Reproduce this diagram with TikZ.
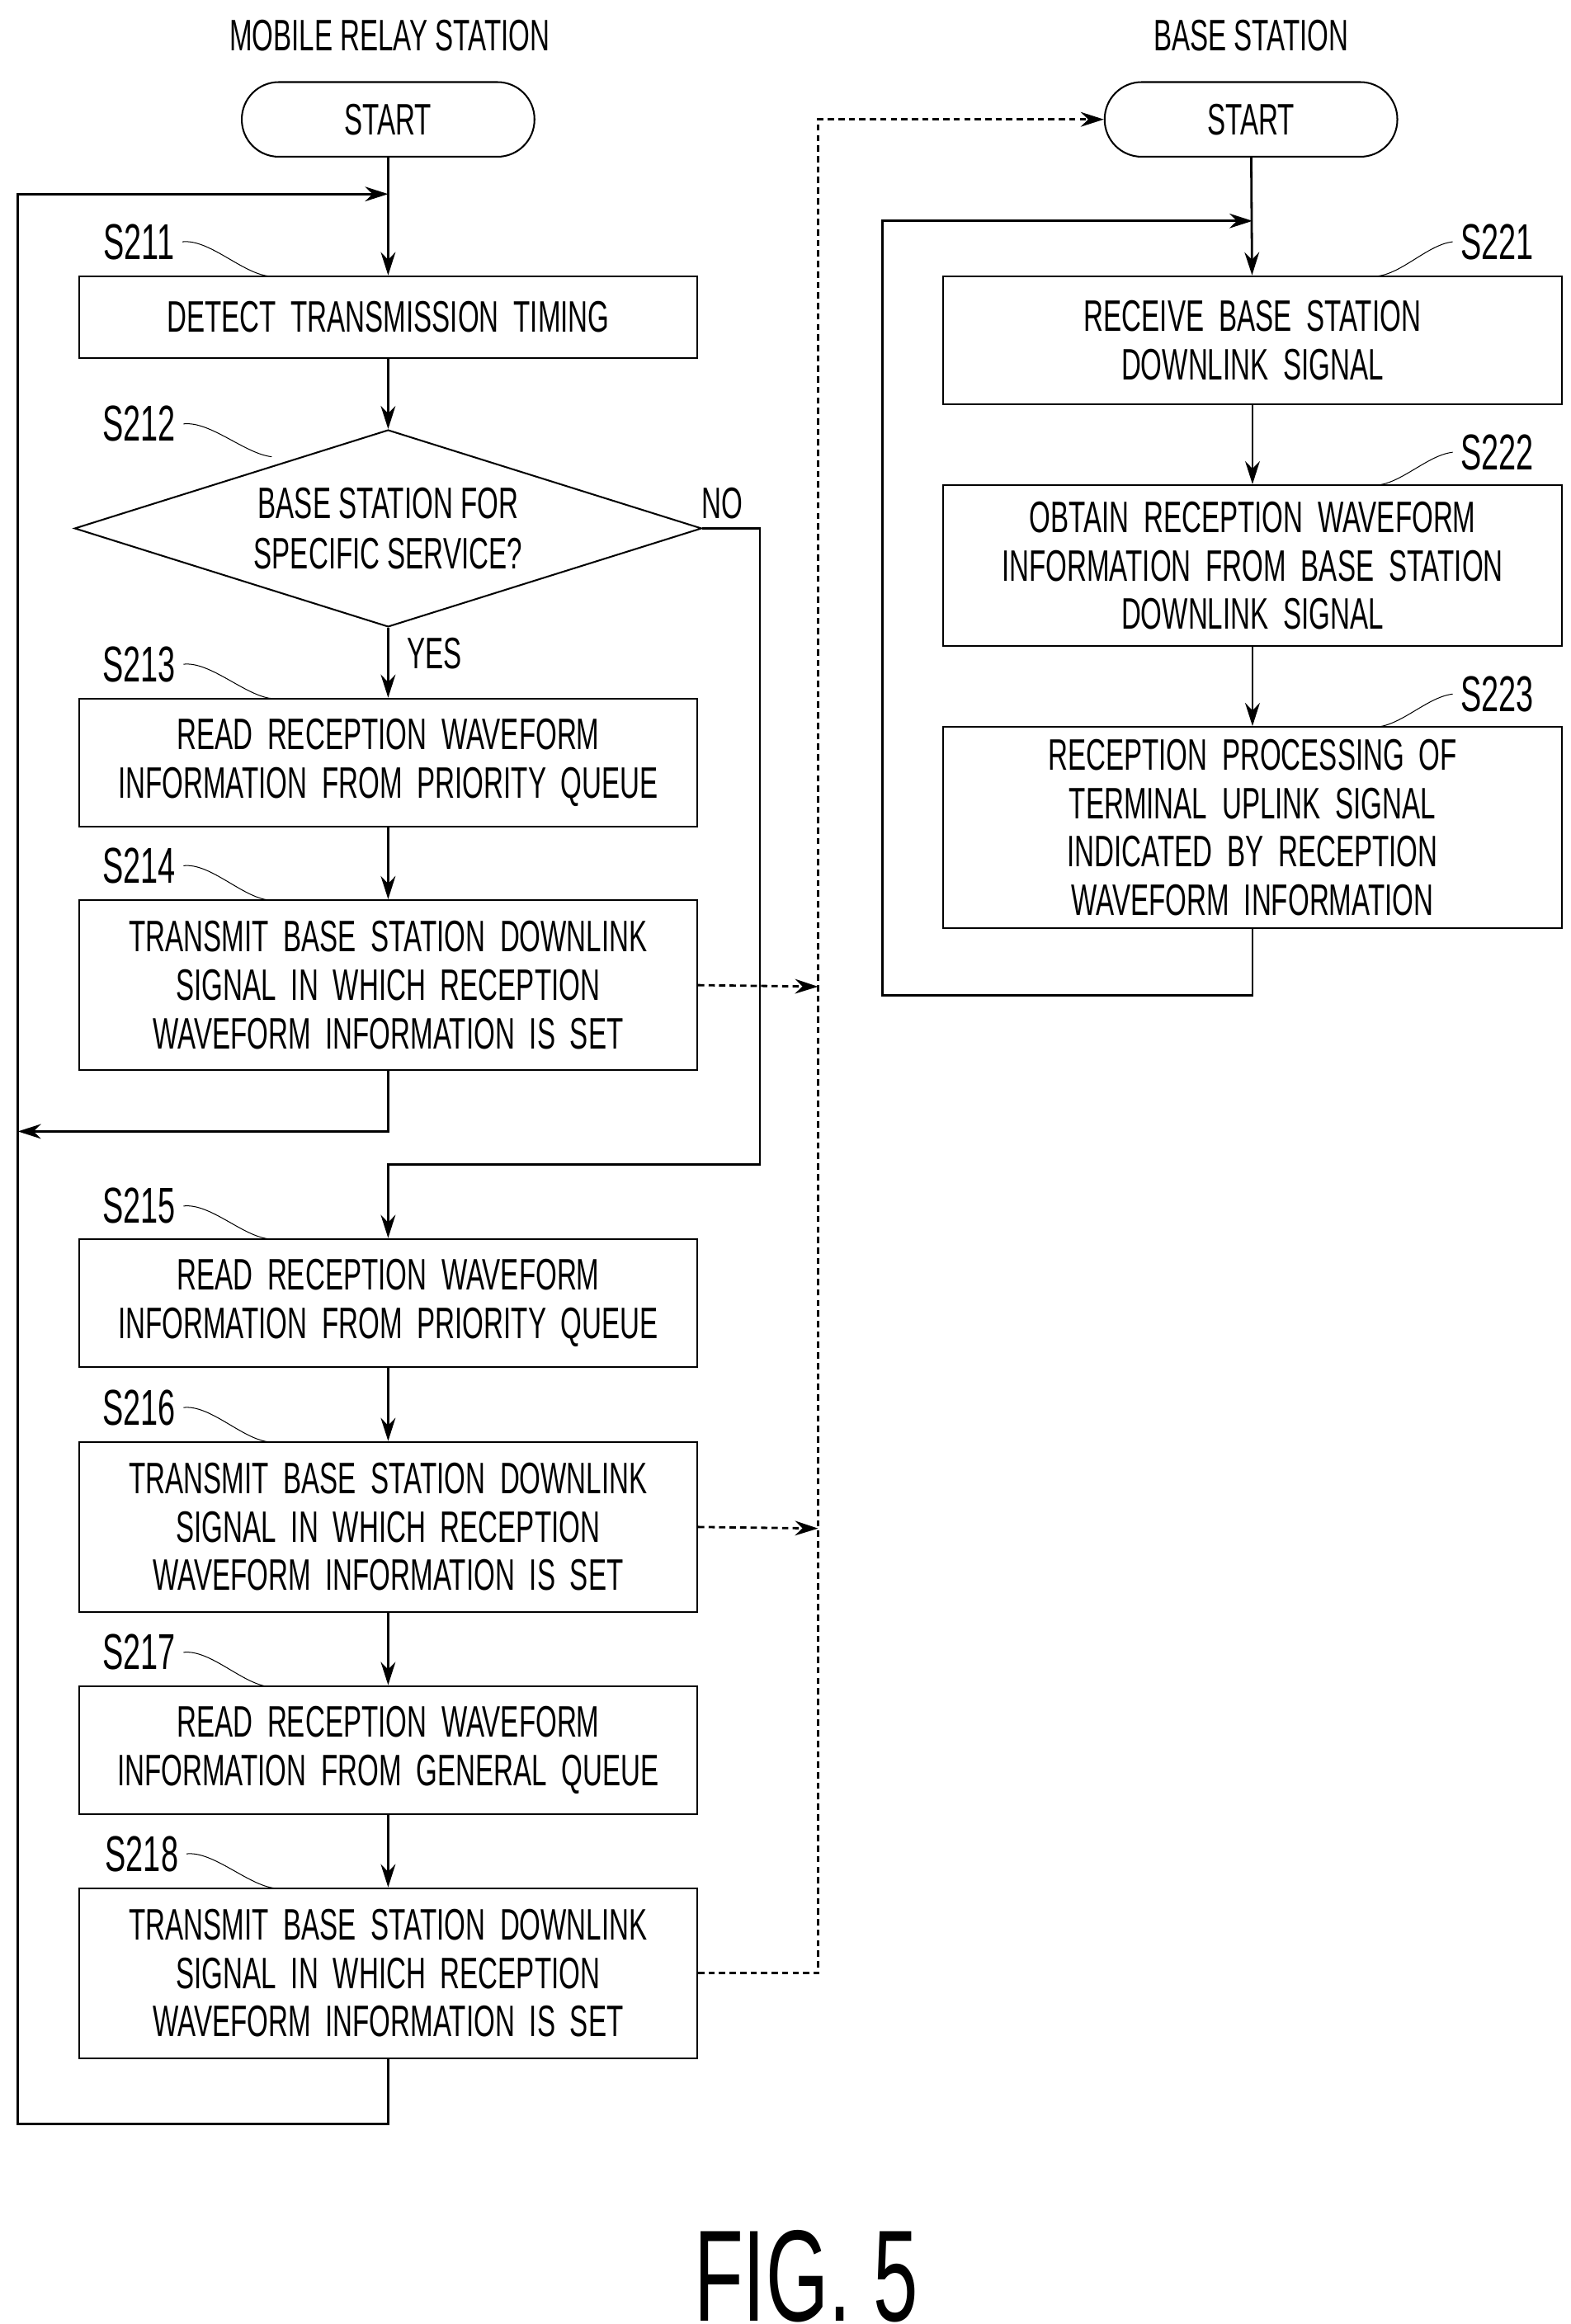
\documentclass[tikz,border=0pt]{standalone}
\usepackage{fontspec}
\setmainfont{Liberation Sans}[FakeStretch=0.62]
\usetikzlibrary{positioning,arrows.meta,shapes.geometric}
\newcommand\squig[2]{\draw[thin] (#1.east) .. controls +(18,-2) and +(-18,-2) .. (#2);}
\begin{document}
\begin{tikzpicture}
[x=0.025cm, y=-0.025cm, font=\fontsize{21}{24}\selectfont, line width=1.1pt,
box/.style={draw, thick, minimum width=10.35cm, text width=9.8cm, align=center, inner sep=2pt, font=\fontsize{21}{23}\selectfont},
term/.style={draw, thick, rounded corners=0.62cm, minimum width=4.9cm, minimum height=1.25cm},
lab/.style={font=\fontsize{24}{26}\selectfont},
arr/.style={-{Stealth[length=11pt,width=7pt]}},
dasharr/.style={densely dashed, -{Stealth[length=11pt,width=7pt]}}
]
\useasboundingbox (0,0) rectangle (1052,1557);
%Nodes
\node[]		(h1) at(261,24) {MOBILE RELAY STATION};
\node[]		(h2) at(838,24) {BASE STATION};
\node[term]	(st1) at(260,80) {START};
\node[term]	(st2) at(838,80) {START};

\node[box, minimum height=1.375cm] at(260,212.5)	(b211) {DETECT TRANSMISSION TIMING};
\node[draw, thick, diamond, aspect=3.2, minimum width=10.5cm, minimum height=3.3cm, inner sep=0pt, align=center] at(260,354) (b212) {BASE STATION FOR\\SPECIFIC SERVICE?};
\node[box, minimum height=2.15cm] at(260,511)	(b213) {READ RECEPTION WAVEFORM\\INFORMATION FROM PRIORITY QUEUE};
\node[box, minimum height=2.85cm] at(260,660)	(b214) {TRANSMIT BASE STATION DOWNLINK\\SIGNAL IN WHICH RECEPTION\\WAVEFORM INFORMATION IS SET};
\node[box, minimum height=2.15cm] at(260,873)	(b215) {READ RECEPTION WAVEFORM\\INFORMATION FROM PRIORITY QUEUE};
\node[box, minimum height=2.85cm] at(260,1023)	(b216) {TRANSMIT BASE STATION DOWNLINK\\SIGNAL IN WHICH RECEPTION\\WAVEFORM INFORMATION IS SET};
\node[box, minimum height=2.15cm] at(260,1172.5)	(b217) {READ RECEPTION WAVEFORM\\INFORMATION FROM GENERAL QUEUE};
\node[box, minimum height=2.85cm] at(260,1322)	(b218) {TRANSMIT BASE STATION DOWNLINK\\SIGNAL IN WHICH RECEPTION\\WAVEFORM INFORMATION IS SET};

\node[box, minimum height=2.15cm] at(839,228)	(b221) {RECEIVE BASE STATION\\DOWNLINK SIGNAL};
\node[box, minimum height=2.7cm] at(839,379)	(b222) {OBTAIN RECEPTION WAVEFORM\\INFORMATION FROM BASE STATION\\DOWNLINK SIGNAL};
\node[box, minimum height=3.375cm] at(839,554.5)	(b223) {RECEPTION PROCESSING OF\\TERMINAL UPLINK SIGNAL\\INDICATED BY RECEPTION\\WAVEFORM INFORMATION};

\node[lab]	(l211) at(93,162) {S211};
\node[lab]	(l212) at(93,284) {S212};
\node[lab]	(l213) at(93,445) {S213};
\node[lab]	(l214) at(93,580) {S214};
\node[lab]	(l215) at(93,808) {S215};
\node[lab]	(l216) at(93,943) {S216};
\node[lab]	(l217) at(93,1107) {S217};
\node[lab]	(l218) at(95,1242) {S218};
\node[lab]	(l221) at(1003,162) {S221};
\node[lab]	(l222) at(1003,303) {S222};
\node[lab]	(l223) at(1003,465) {S223};
\node[]		(no) at(484,337) {NO};
\node[]		(yes) at(291,438) {YES};
\node[font=\fontsize{62}{66}\selectfont]	(fig) at(540,1525) {FIG. 5};

\coordinate (c211) at(180,185);
\coordinate (c212) at(182,306);
\coordinate (c213) at(182,468);
\coordinate (c214) at(180,603);
\coordinate (c215) at(180,830);
\coordinate (c216) at(180,966);
\coordinate (c217) at(180,1130);
\coordinate (c218) at(184,1265);
\coordinate (c221) at(918,185);
\coordinate (c222) at(918,325);
\coordinate (c223) at(918,487);
\squig{l211}{c211}
\squig{l212}{c212}
\squig{l213}{c213}
\squig{l214}{c214}
\squig{l215}{c215}
\squig{l216}{c216}
\squig{l217}{c217}
\squig{l218}{c218}
\draw[thin] (c221) .. controls +(18,2) and +(-18,2) .. (l221.west);
\draw[thin] (c222) .. controls +(18,2) and +(-18,2) .. (l222.west);
\draw[thin] (c223) .. controls +(18,2) and +(-18,2) .. (l223.west);

%Connectors left
\draw[arr] (st1) -- (b211);
\draw[arr] (b211) -- (b212);
\draw[arr] (b212) -- (b213);
\draw[arr] (b213) -- (b214);
\draw[arr] (b214.south) |- (12,758);
\draw[arr] (b212.east) -| (509,780) -| (b215.north);
\draw[arr] (b215) -- (b216);
\draw[arr] (b216) -- (b217);
\draw[arr] (b217) -- (b218);
\draw[arr] (b218.south) |- (12,1423) |- (260,130);
%Connectors right
\draw[arr] (st2) -- (b221);
\draw[arr] (b221) -- (b222);
\draw[arr] (b222) -- (b223);
\draw[arr] (b223.south) |- (591,667) |- (839,148);
%Dashed
\draw[dasharr] (b214.east) -- (548,661);
\draw[dasharr] (b216.east) -- (548,1024);
\draw[dasharr] (b218.east) -| (548,80) -- (st2.west);
\end{tikzpicture}
\end{document}
